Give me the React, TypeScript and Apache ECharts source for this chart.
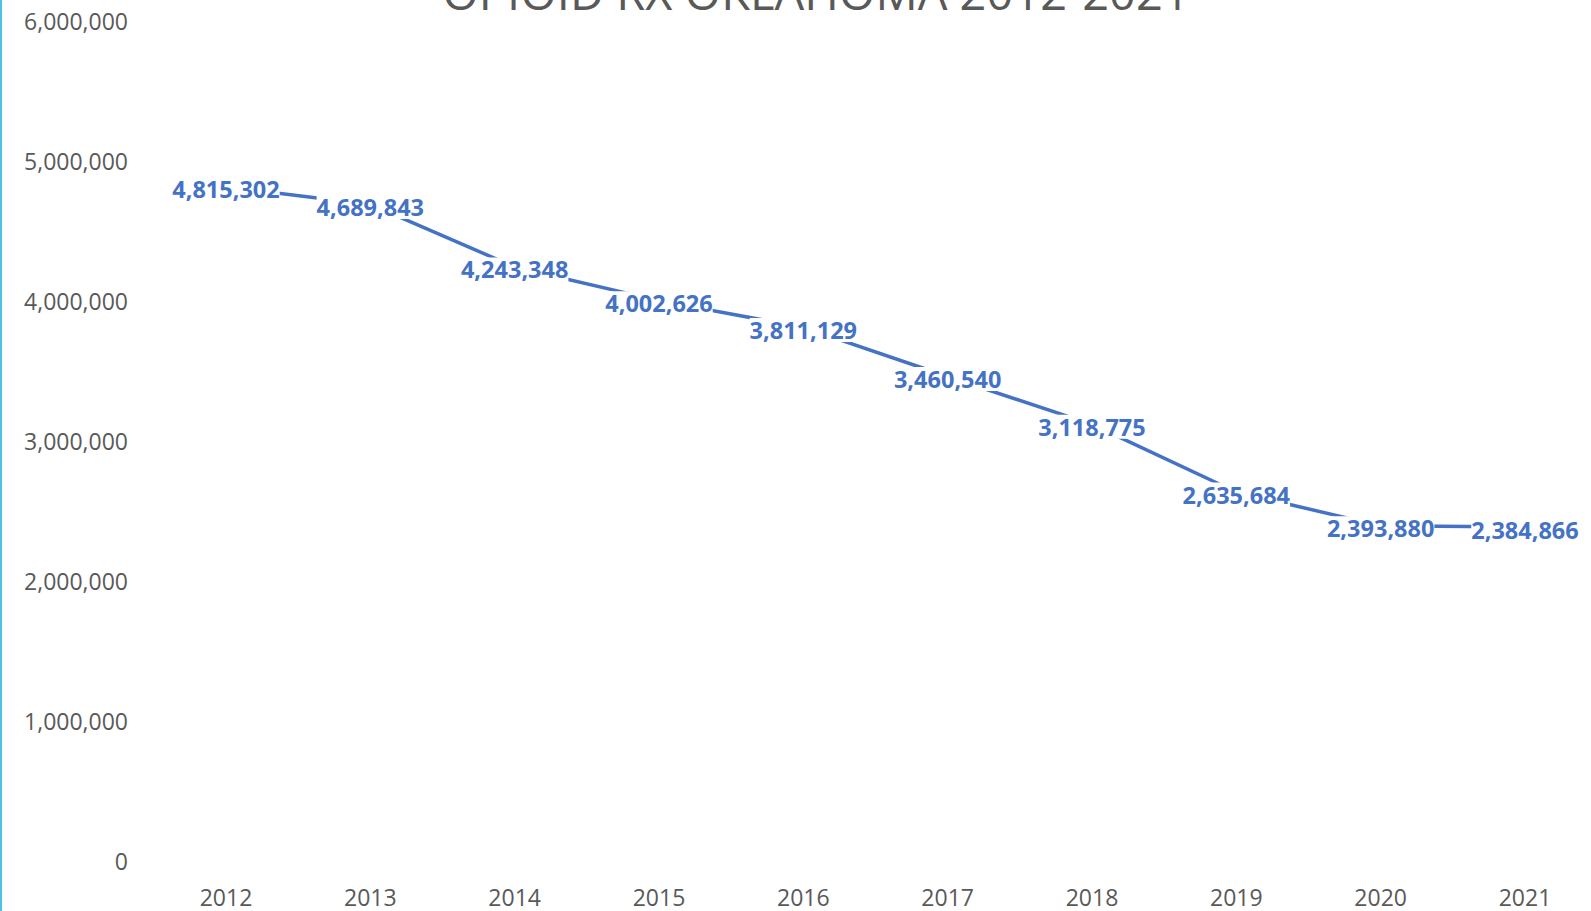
import React, { useEffect, useRef } from "react";
import * as echarts from "echarts";

const years = ["2012", "2013", "2014", "2015", "2016", "2017", "2018", "2019", "2020", "2021"];
const prescriptions = [4815302, 4689843, 4243348, 4002626, 3811129, 3460540, 3118775, 2635684, 2393880, 2384866];
const chartTitle = "OPIOID RX OKLAHOMA 2012-2021";

export default function App() {
  const ref = useRef<HTMLDivElement>(null);
  useEffect(() => {
    if (!ref.current) return;
    const chart = echarts.init(ref.current, null, { renderer: "svg" });
    chart.setOption({
      animation: false,
      backgroundColor: "#ffffff",
      textStyle: { fontFamily: "Open Sans" },
      graphic: [
        {
          type: "text",
          x: 816,
          y: 15,
          style: {
            text: chartTitle,
            fill: "#595959",
            font: "47px 'Open Sans'",
            textAlign: "center",
            textVerticalAlign: "bottom",
          },
        },
        { type: "rect", shape: { x: 0, y: 0, width: 2, height: 911 }, style: { fill: "#4cc4e4" } },
      ],
      grid: { left: 226, right: 66, top: 21, bottom: 50, containLabel: false },
      xAxis: {
        type: "category",
        data: years,
        boundaryGap: false,
        axisLine: { show: false },
        axisTick: { show: false },
        axisLabel: { color: "#595959", fontSize: 23, fontFamily: "Open Sans", margin: 24 },
      },
      yAxis: {
        type: "value",
        min: 0,
        max: 6000000,
        interval: 1000000,
        splitLine: { show: false },
        axisLine: { show: false },
        axisTick: { show: false },
        axisLabel: {
          color: "#595959",
          fontSize: 23,
          fontFamily: "Open Sans",
          margin: 98,
          formatter: (v: number) => v.toLocaleString("en-US"),
        },
      },
      series: [
        {
          type: "line",
          data: prescriptions,
          symbol: "circle",
          symbolSize: 1,
          showSymbol: true,
          itemStyle: { color: "#4472C4" },
          lineStyle: { color: "#4472C4", width: 3.5 },
          label: {
            show: true,
            position: "top",
            distance: 0,
            offset: [0, 15],
            color: "#4472C4",
            fontWeight: "bold",
            fontSize: 23.5,
            fontFamily: "Open Sans",
            backgroundColor: "#ffffff",
            padding: [0, 0],
            formatter: (p: any) => Number(p.value).toLocaleString("en-US"),
          },
        },
      ],
    });
    return () => chart.dispose();
  }, []);
  return <div ref={ref} style={{ position: "fixed", left: 0, top: 0, width: 1591, height: 911 }} />;
}
